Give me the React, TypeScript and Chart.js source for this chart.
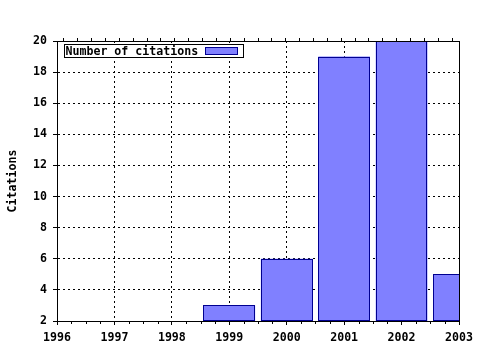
import React, { useEffect, useRef } from "react";
import { Chart, registerables } from "chart.js";

Chart.register(...registerables);

const years = [1999, 2000, 2001, 2002, 2003];
const citations = [3, 6, 19, 20, 5];
const seriesLabel = "Number of citations";
const yTitle = "Citations";
const xMin = 1996;
const xMax = 2003;
const yMin = 2;
const yMax = 20;

const FONT = '"DejaVu Sans Mono", monospace';
const FSIZE = 11.6;
const BAR_FILL = "#8080ff";
const BAR_EDGE = "#000090";

const framePlugin = {
  id: "frameAndLegend",
  afterDatasetsDraw(chart: any) {
    const { ctx, chartArea } = chart;
    const { left, top, right, bottom } = chartArea;
    ctx.save();
    // crisp bar outlines, using the bar elements laid out by Chart.js
    ctx.beginPath();
    ctx.rect(left, top, right - left + 1, bottom - top + 1);
    ctx.clip();
    ctx.strokeStyle = BAR_EDGE;
    ctx.lineWidth = 1;
    const meta = chart.getDatasetMeta(0);
    meta.data.forEach((el: any) => {
      const p = el.getProps(["x", "y", "base", "width"], true);
      const x0 = Math.round(p.x - p.width / 2) + 0.5;
      const x1 = Math.round(p.x + p.width / 2) - 0.5;
      const y0 = Math.round(p.y) + 0.5;
      const y1 = Math.round(Math.min(p.base, bottom)) - 0.5;
      ctx.fillStyle = BAR_FILL;
      ctx.fillRect(x0, y0, x1 - x0, y1 - y0);
      ctx.strokeRect(x0, y0, x1 - x0, y1 - y0);
    });
    ctx.restore();
    ctx.save();
    ctx.strokeStyle = "#000";
    ctx.lineWidth = 1;
    ctx.setLineDash([]);
    ctx.strokeRect(Math.round(left) + 0.5, Math.round(top) + 0.5, Math.round(right - left), Math.round(bottom - top));
    // minor ticks along the bottom axis
    const xs = chart.scales.x;
    ctx.beginPath();
    for (let v = xMin; v <= xMax + 1e-9; v += 0.25) {
      if (Math.abs(v - Math.round(v)) < 1e-6) continue;
      const px = Math.round(xs.getPixelForValue(v)) + 0.5;
      ctx.moveTo(px, Math.round(bottom));
      ctx.lineTo(px, Math.round(bottom) + 3);
    }
    ctx.stroke();
    // legend
    const label = chart.data.datasets[0].label;
    ctx.font = `bold ${FSIZE}px ${FONT}`;
    const w = ctx.measureText(label).width;
    const fx = Math.round(left) + 7.5;
    const fy = Math.round(top) + 3.5;
    const boxW = 32;
    const fw = Math.round(1 + w + 7 + boxW + 6);
    const fh = 13;
    ctx.fillStyle = "#fff";
    ctx.fillRect(fx, fy, fw, fh);
    ctx.strokeRect(fx, fy, fw, fh);
    ctx.fillStyle = "#000";
    ctx.textBaseline = "middle";
    ctx.textAlign = "left";
    ctx.fillText(label, fx + 1, fy + fh / 2 + 0.5);
    const bx = Math.round(fx + 1 + w + 7) + 0.5;
    ctx.fillStyle = BAR_FILL;
    ctx.fillRect(bx, fy + 3, boxW, 7);
    ctx.strokeStyle = BAR_EDGE;
    ctx.strokeRect(bx, fy + 3, boxW, 7);
    ctx.restore();
  },
};

export default function App() {
  const ref = useRef<HTMLCanvasElement>(null);
  useEffect(() => {
    if (!ref.current) return;
    const chart = new Chart(ref.current, {
      type: "bar",
      data: {
        datasets: [
          {
            label: seriesLabel,
            data: years.map((x, i) => ({ x, y: citations[i] })),
            backgroundColor: BAR_FILL,
            borderColor: BAR_EDGE,
            borderWidth: 0,
            inflateAmount: 0,
            barPercentage: 0.9,
            categoryPercentage: 1.0,
            xAxisID: "x",
            yAxisID: "y",
          },
        ],
      },
      plugins: [framePlugin],
      options: {
        responsive: false,
        animation: false,
        layout: { padding: { left: 0, right: 21, top: 0, bottom: 0 } },
        plugins: { legend: { display: false }, tooltip: { enabled: false } },
        scales: {
          x: {
            type: "linear",
            position: "bottom",
            min: xMin,
            max: xMax,
            offset: false,
            afterFit: (s: any) => {
              s.height = 29;
            },
            ticks: {
              stepSize: 1,
              autoSkip: false,
              maxRotation: 0,
              padding: 6,
              color: "#000",
              font: { family: FONT, size: FSIZE, weight: "bold" },
              callback: (v: any) => String(Math.round(Number(v))),
            },
            grid: {
              offset: false,
              color: (c: any) =>
                c.tick && c.tick.value !== xMin && c.tick.value !== xMax ? "#000" : "rgba(0,0,0,0)",
              tickColor: "#000",
              tickLength: 4,
              lineWidth: 1,
            },
            border: { display: true, color: "#000", dash: [2, 3] },
          },
          xTop: {
            type: "linear",
            position: "top",
            min: xMin,
            max: xMax,
            afterFit: (s: any) => {
              s.height = 41;
            },
            ticks: { stepSize: 0.25, autoSkip: false, display: false },
            grid: { offset: false, drawOnChartArea: false, tickColor: "#000", tickLength: 3 },
            border: { display: true, color: "#000" },
          },
          y: {
            type: "linear",
            position: "left",
            min: yMin,
            max: yMax,
            afterFit: (s: any) => {
              s.width = 57;
            },
            ticks: {
              stepSize: 2,
              padding: 6,
              color: "#000",
              font: { family: FONT, size: FSIZE, weight: "bold" },
            },
            grid: {
              color: (c: any) =>
                c.tick && c.tick.value !== yMin && c.tick.value !== yMax ? "#000" : "rgba(0,0,0,0)",
              tickColor: "#000",
              tickLength: 4,
              lineWidth: 1,
            },
            border: { display: true, color: "#000", dash: [2, 3] },
            title: {
              display: true,
              text: yTitle,
              color: "#000",
              font: { family: FONT, size: FSIZE, weight: "bold" },
              padding: { top: 6, bottom: 0 },
            },
          },
        },
      },
    } as any);
    return () => chart.destroy();
  }, []);
  return (
    <div style={{ position: "fixed", left: 0, top: 0, width: 480, height: 350, background: "#fff" }}>
      <canvas ref={ref} width={480} height={350} style={{ display: "block" }} />
    </div>
  );
}
